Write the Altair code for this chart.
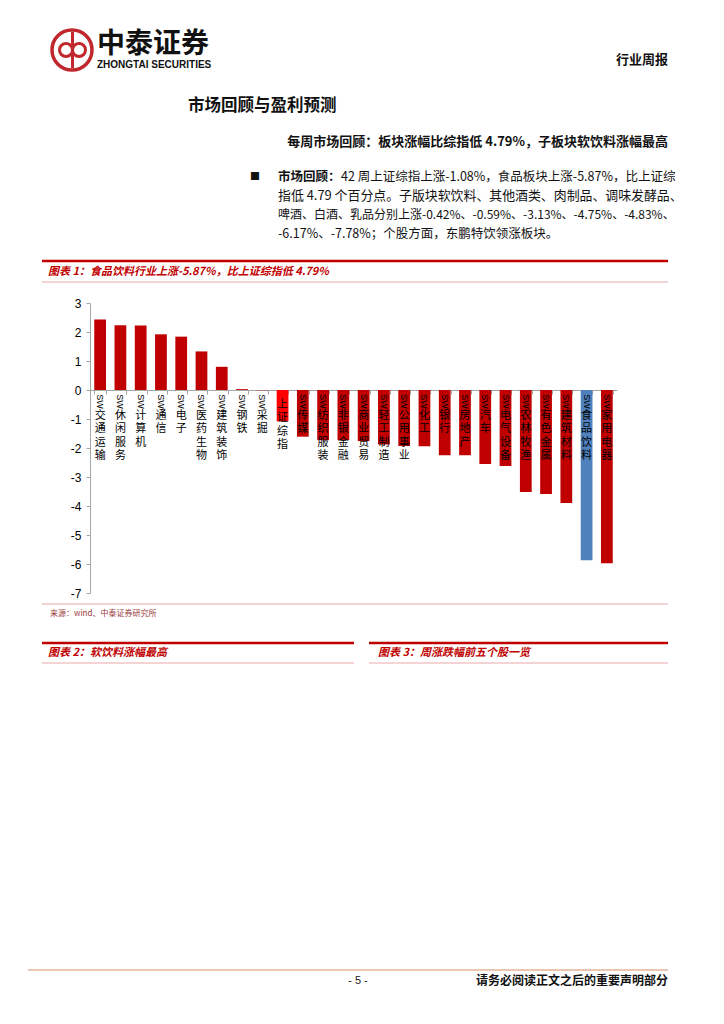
import altair as alt
import pandas as pd

# ---------------- data ----------------
categories = ["SW交通运输", "SW休闲服务", "SW计算机", "SW通信", "SW电子", "SW医药生物",
              "SW建筑装饰", "SW钢铁", "SW采掘", "上证综指", "SW传媒", "SW纺织服装",
              "SW非银金融", "SW商业贸易", "SW轻工制造", "SW公用事业", "SW化工", "SW银行",
              "SW房地产", "SW汽车", "SW电气设备", "SW农林牧渔", "SW有色金属", "SW建筑材料",
              "SW食品饮料", "SW家用电器"]
values = [2.43, 2.23, 2.22, 1.92, 1.84, 1.33,
          0.80, 0.03, -0.01, -1.08, -1.61, -1.73,
          -1.72, -1.76, -1.88, -1.93, -1.94, -2.25,
          -2.25, -2.55, -2.62, -3.52, -3.59, -3.90,
          -5.87, -5.97]
highlight = {"上证综指": "index", "SW食品饮料": "food"}
y_ticks = [3, 2, 1, 0, -1, -2, -3, -4, -5, -6, -7]

header_brand = "中泰证券"
header_brand_en = "ZHONGTAI SECURITIES"
header_right = "行业周报"
section_title = "市场回顾与盈利预测"
subtitle = "每周市场回顾：板块涨幅比综指低 4.79%，子板块软饮料涨幅最高"
para_bold = "市场回顾："
para_lines = [
    "42 周上证综指上涨-1.08%，食品板块上涨-5.87%，比上证综",
    "指低 4.79 个百分点。子版块软饮料、其他酒类、肉制品、调味发酵品、",
    "啤酒、白酒、乳品分别上涨-0.42%、-0.59%、-3.13%、-4.75%、-4.83%、",
    "-6.17%、-7.78%；个股方面，东鹏特饮领涨板块。",
]
fig1_title = "图表 1：食品饮料行业上涨-5.87%，比上证综指低 4.79%"
fig1_source = "来源：wind、中泰证券研究所"
fig2_title = "图表 2：软饮料涨幅最高"
fig3_title = "图表 3：周涨跌幅前五个股一览"
page_no = "- 5 -"
footer_note = "请务必阅读正文之后的重要声明部分"

df = pd.DataFrame({"cat": categories, "val": values})
df["grp"] = [highlight.get(c, "other") for c in categories]
df["sw"] = [c.startswith("SW") for c in categories]
df["chars"] = ["\n".join(c[2:] if c.startswith("SW") else c) for c in categories]

# ---------------- layout ----------------
PX0, PY0 = 90, 303      # page position of plot origin
W, H = 527, 290
CJK = "Noto Sans CJK SC"
RED = "#C00000"


def X(px):
    return px - PX0


def Y(py):
    return py - PY0


one = alt.Data(values=[{"a": 1}])


def hrule(x1, x2, y, color, width):
    return alt.Chart(one).mark_rule(color=color, strokeWidth=width).encode(
        x=alt.value(X(x1)), x2=alt.value(X(x2)), y=alt.value(Y(y)))


def vrule(x, y1, y2, color, width):
    return alt.Chart(one).mark_rule(color=color, strokeWidth=width).encode(
        x=alt.value(X(x)), y=alt.value(Y(y1)), y2=alt.value(Y(y2)))


def label(x, y, s, size=12, weight="normal", color="#000", align="left",
          font=CJK, style="normal", baseline="middle"):
    return alt.Chart(one).mark_text(
        text=s, fontSize=size, fontWeight=weight, color=color, align=align,
        font=font, fontStyle=style, baseline=baseline).encode(
        x=alt.value(X(x)), y=alt.value(Y(y)))


def ring(x, y, d, color, width):
    return alt.Chart(one).mark_point(shape="circle", filled=False, size=d * d,
                                     stroke=color, strokeWidth=width, opacity=1).encode(
        x=alt.value(X(x)), y=alt.value(Y(y)))


zero_px = H * 3 / 10.0
x_enc = alt.X("cat:N", sort=categories,
              scale=alt.Scale(paddingInner=0.42, paddingOuter=0.21),
              axis=alt.Axis(orient="bottom", offset=-(H - zero_px), labels=False,
                            title=None, domainColor="#A6A6A6", tickColor="#A6A6A6",
                            tickSize=4, tickBand="extent"))
y_scale = alt.Scale(domain=[-7, 3], nice=False)
y_axis = alt.Axis(values=y_ticks, title=None, grid=False, domainColor="#A6A6A6",
                  tickColor="#A6A6A6", tickSize=4, labelFontSize=12,
                  labelColor="#000", labelFont="Liberation Sans", labelPadding=5,
                  labelOverlap=False, labelFlush=False, labelExpr="'' + datum.value")

base = alt.Chart(df)
bars = base.mark_bar().encode(
    x=x_enc,
    y=alt.Y("val:Q", scale=y_scale, axis=y_axis),
    color=alt.Color("grp:N", scale=alt.Scale(domain=["other", "index", "food"],
                                             range=[RED, "#FF0000", "#4F81BD"]),
                    legend=None),
)

sw_text = base.transform_filter("datum.sw").mark_text(
    text="SW", angle=90, fontSize=9, font="Liberation Sans", align="center",
    baseline="middle", dx=11.5, color="#000").encode(
    x=x_enc, y=alt.Y(datum=0, scale=y_scale, axis=y_axis))

chars_sw = base.transform_filter("datum.sw").mark_text(
    lineBreak="\n", baseline="top", align="center", fontSize=11, lineHeight=13.4,
    dy=20, font=CJK, color="#000").encode(
    x=x_enc, y=alt.Y(datum=0, scale=y_scale, axis=y_axis), text="chars:N")

chars_idx = base.transform_filter("!datum.sw").mark_text(
    lineBreak="\n", baseline="top", align="center", fontSize=11, lineHeight=13.4,
    dy=9, font=CJK, color="#000").encode(
    x=x_enc, y=alt.Y(datum=0, scale=y_scale, axis=y_axis), text="chars:N")

decor = [
    # logo
    ring(72, 50, 40, "#C0282D", 3.5),
    ring(66, 50, 13, "#C0282D", 3),
    ring(79, 50, 13, "#C0282D", 3),
    vrule(72.5, 32, 68, "#C0282D", 3),
    label(97, 45, header_brand, size=28, weight="bold", color="#111"),
    label(97, 65, header_brand_en, size=10, weight="bold", color="#111",
          font="Liberation Sans"),
    label(668, 60, header_right, size=13, weight="bold", color="#111", align="right"),
    # section
    label(188, 106, section_title, size=16.5, weight="bold", color="#111"),
    label(668, 142, subtitle, size=13, weight="bold", color="#111", align="right"),
    label(255, 177, "■", size=10, color="#111", align="center"),
    label(278, 177, para_bold, size=12.5, weight="bold", color="#111"),
    label(341, 177, para_lines[0], size=12.5, color="#111"),
    label(278, 196, para_lines[1], size=12.9, color="#111"),
    label(278, 215, para_lines[2], size=12.0, color="#111"),
    label(278, 234, para_lines[3], size=12.5, color="#111"),
    # figure 1 frame
    hrule(42, 668, 261, RED, 2.5),
    label(48, 272, fig1_title, size=11, weight="bold", color=RED, style="italic"),
    hrule(42, 668, 282, "#E8A8A8", 1),
    hrule(42, 668, 604, "#E8A8A8", 1),
    label(50, 614, fig1_source, size=8, color="#9B3A3A"),
    # figure 2 / 3 headers
    hrule(42, 354, 643, RED, 2.5),
    label(48, 653, fig2_title, size=11, weight="bold", color=RED, style="italic"),
    hrule(42, 354, 663, "#E8A8A8", 1),
    hrule(369, 668, 643, RED, 2.5),
    label(378, 653, fig3_title, size=11, weight="bold", color=RED, style="italic"),
    hrule(369, 668, 663, "#E8A8A8", 1),
    # footer
    hrule(28, 668, 970, "#EBC7B1", 2),
    label(358, 981, page_no, size=11, color="#222", align="center",
          font="Liberation Sans"),
    label(668, 981, footer_note, size=12, weight="bold", color="#111", align="right"),
]

chart = alt.layer(bars, sw_text, chars_sw, chars_idx, *decor).properties(
    width=W, height=H,
    padding={"left": PX0 - 8, "top": PY0 - 8, "right": 700 - (PX0 - 8) - W,
             "bottom": 1000 - (PY0 - 8) - H},
    autosize=alt.AutoSizeParams(type="none"),
).configure_view(stroke=None).configure_axis(labelFontSize=12).configure_axisY(
    labelOverlap=False)

chart.save("out.html", embed_options={"renderer": "svg", "actions": False})
